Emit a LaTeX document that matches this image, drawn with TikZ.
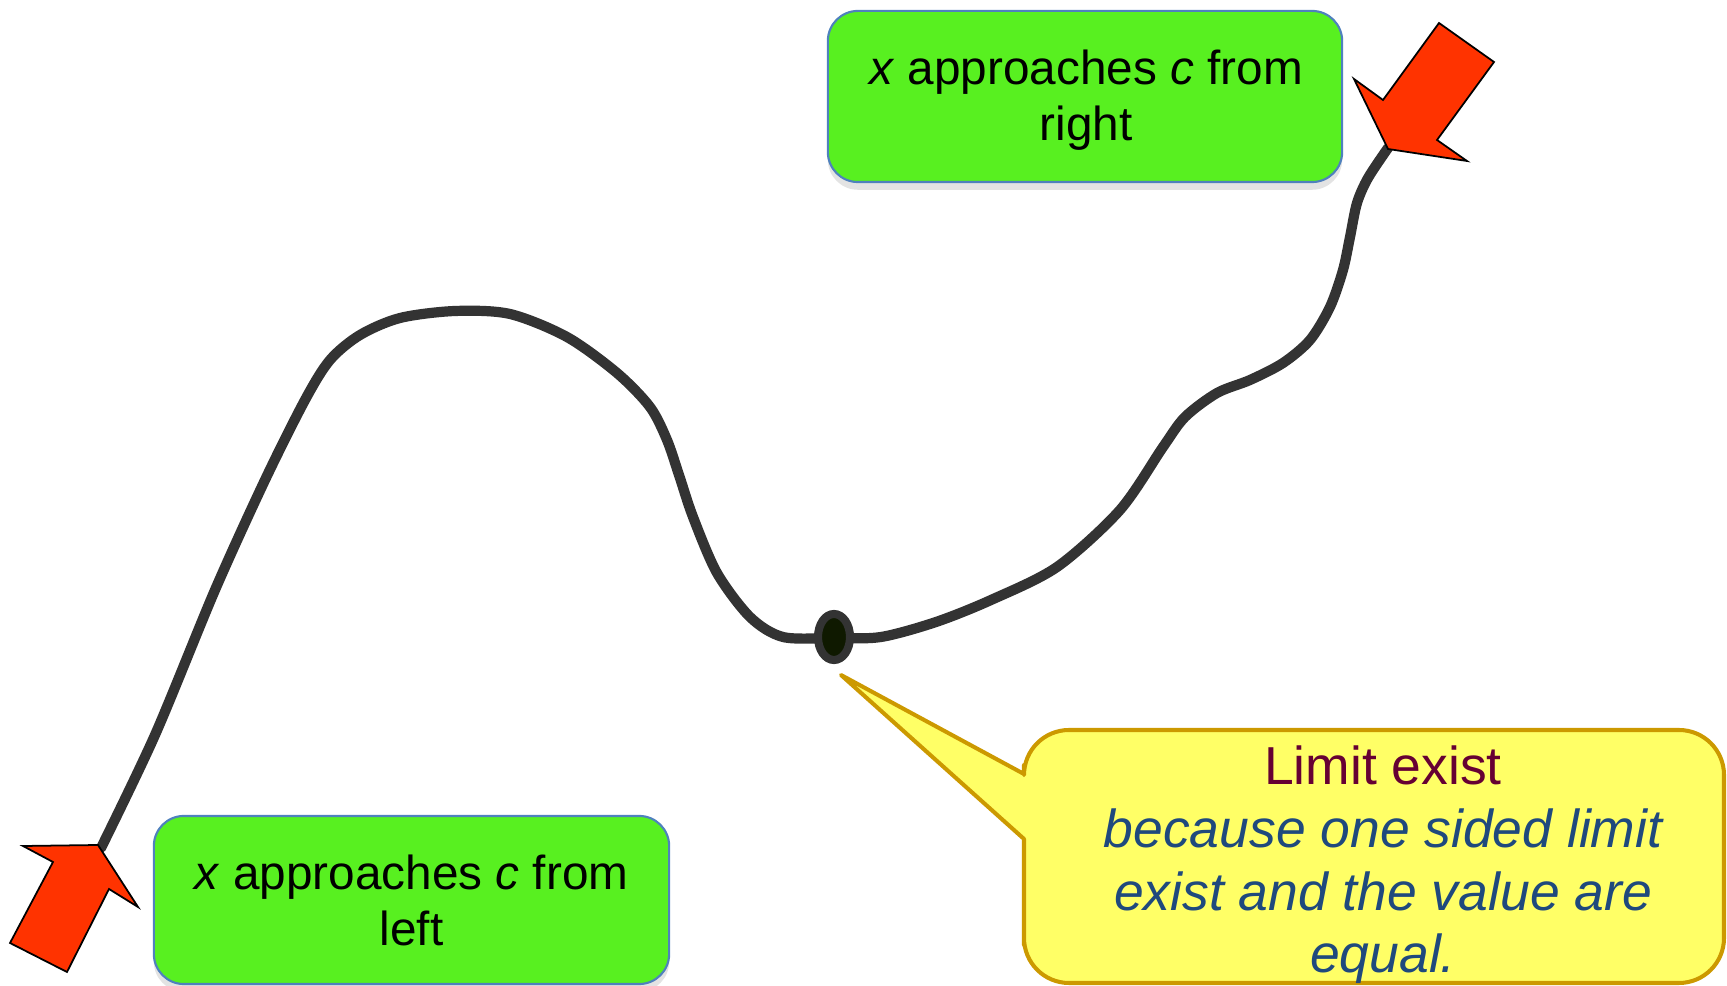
\documentclass[tikz,border=0pt]{standalone}
\usepackage{fontspec}
\setmainfont{Liberation Sans}
\usetikzlibrary{shadows,shapes.geometric}
\definecolor{boxgreen}{RGB}{88,240,32}
\definecolor{boxblue}{RGB}{79,129,189}
\definecolor{arrowred}{RGB}{255,51,0}
\definecolor{curvegray}{RGB}{51,51,51}
\definecolor{calloutfill}{RGB}{255,255,102}
\definecolor{calloutdraw}{RGB}{204,153,0}
\definecolor{limitred}{RGB}{102,0,51}
\definecolor{textblue}{RGB}{31,73,125}
\definecolor{dotfill}{RGB}{15,25,0}
\begin{document}
\begin{tikzpicture}[x=0.01cm,y=-0.01cm,
  greenbox/.style={draw=boxblue, line width=0.6pt, fill=boxgreen, rounded corners=0.3cm,
    drop shadow={opacity=0.22, shadow xshift=0pt, shadow yshift=-2.2pt}},
  greentext/.style={align=center, inner sep=0pt, font=\fontsize{13.57pt}{15.93pt}\selectfont},
  callouttext/.style={align=center, inner sep=0pt, text=textblue, font=\fontsize{15.2pt}{17.8pt}\selectfont\itshape},
  redarrow/.style={draw=black, line width=0.5pt, fill=arrowred, line join=miter},
  curvestroke/.style={draw=curvegray, line width=2.9pt, line cap=round, line join=round},
  calloutshape/.style={draw=calloutdraw, fill=calloutfill, line width=1.15pt, line join=round},
  dotnode/.style={draw=curvegray, fill=dotfill, line width=2.3pt, ellipse, minimum width=0.32cm, minimum height=0.46cm, inner sep=0pt}
]
\useasboundingbox (0,0) rectangle (1727,986);

% curve
\draw[curvestroke] plot[smooth, tension=0.5] coordinates {
 (101,848) (155,735) (215,590) (265,480) (305,400) (330,360) (360,335) (400,318) (455,311)
 (510,314) (567,337) (617,373) (650,407) (667,440) (679,475) (693,517) (717,573) (750,617) (783,637)
 (834,638) (881,637) (936,622) (991,600) (1057,567) (1120,510) (1163,447) (1185,417) (1217,393)
 (1250,380) (1283,363) (1310,340) (1330,307) (1343,270) (1350,237) (1357,203) (1368,178) (1388,148)};

\node[dotnode] (c) at (834,637) {};

% green boxes
\node[greenbox, minimum width=5.14cm, minimum height=1.71cm] (rbox) at (1085,96.5) {};
\node[greentext] (rtext) at (1086,100) {\textit{x} approaches \textit{c} from\\right};

\node[greenbox, minimum width=5.15cm, minimum height=1.68cm] (lbox) at (411.5,900) {};
\node[greentext] (ltext) at (411.5,900) {\textit{x} approaches \textit{c} from\\left};

% red arrows
\draw[redarrow] (1439,23) -- (1494,62) -- (1437,140) -- (1467,161) -- (1388,149) -- (1354,79) -- (1383,100) -- cycle;
\draw[redarrow] (98,845) -- (138,907) -- (109,889) -- (67,972) -- (10,943) -- (53,862) -- (23,846) -- cycle;

% callout
\coordinate (tip) at (841,675);
\draw[calloutshape] (tip) -- (1024,774) -- (1024,765) [rounded corners=0.45cm] -- (1024,730) -- (1724,730) -- (1724,983) -- (1024,983) -- (1024,900) [sharp corners] -- (1024,839) -- cycle;
\node[callouttext] (ctext) at (1383,865) {{\upshape\color{limitred}Limit exist}\\because one sided limit\\exist and the value are\\equal.};
\end{tikzpicture}
\end{document}
